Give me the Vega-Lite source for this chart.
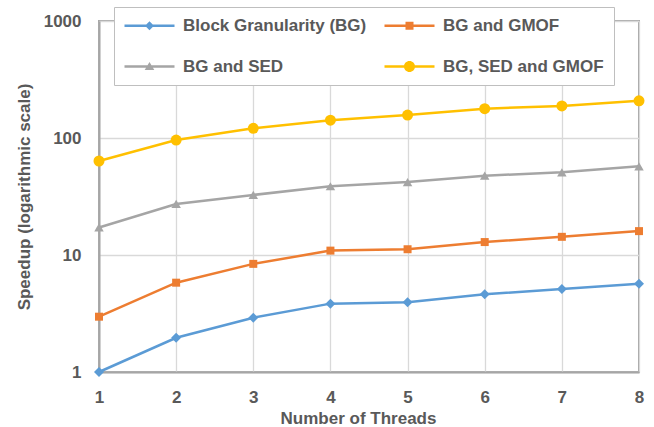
{
  "$schema": "https://vega.github.io/schema/vega-lite/v6.json",
  "width": 540,
  "height": 351,
  "autosize": {"type": "none"},
  "padding": {"left": 99, "top": 21, "right": 15, "bottom": 55},
  "config": {
    "font": "Liberation Sans",
    "view": {"stroke": "#a6a6a6", "strokeWidth": 2},
    "axis": {
      "labelFont": "Liberation Sans",
      "labelFontWeight": "bold",
      "labelFontSize": 17,
      "labelColor": "#595959",
      "titleFont": "Liberation Sans",
      "titleFontWeight": "bold",
      "titleFontSize": 17,
      "titleColor": "#595959",
      "gridColor": "#d9d9d9",
      "gridWidth": 1.3,
      "ticks": false,
      "domainColor": "#a6a6a6",
      "domainWidth": 2
    },
    "legend": {
      "labelFont": "Liberation Sans",
      "labelFontWeight": "bold",
      "labelFontSize": 17,
      "labelColor": "#595959",
      "labelLimit": 400
    }
  },
  "data": {
    "values": [
      {"threads": 1, "series": "Block Granularity (BG)", "speedup": 1.0},
      {"threads": 2, "series": "Block Granularity (BG)", "speedup": 1.96},
      {"threads": 3, "series": "Block Granularity (BG)", "speedup": 2.91},
      {"threads": 4, "series": "Block Granularity (BG)", "speedup": 3.84},
      {"threads": 5, "series": "Block Granularity (BG)", "speedup": 3.94},
      {"threads": 6, "series": "Block Granularity (BG)", "speedup": 4.61},
      {"threads": 7, "series": "Block Granularity (BG)", "speedup": 5.12},
      {"threads": 8, "series": "Block Granularity (BG)", "speedup": 5.69},
      {"threads": 1, "series": "BG and GMOF", "speedup": 2.97},
      {"threads": 2, "series": "BG and GMOF", "speedup": 5.8},
      {"threads": 3, "series": "BG and GMOF", "speedup": 8.4},
      {"threads": 4, "series": "BG and GMOF", "speedup": 10.9},
      {"threads": 5, "series": "BG and GMOF", "speedup": 11.2},
      {"threads": 6, "series": "BG and GMOF", "speedup": 12.9},
      {"threads": 7, "series": "BG and GMOF", "speedup": 14.3},
      {"threads": 8, "series": "BG and GMOF", "speedup": 16.0},
      {"threads": 1, "series": "BG and SED", "speedup": 17.2},
      {"threads": 2, "series": "BG and SED", "speedup": 27.3},
      {"threads": 3, "series": "BG and SED", "speedup": 32.6},
      {"threads": 4, "series": "BG and SED", "speedup": 38.7},
      {"threads": 5, "series": "BG and SED", "speedup": 42.0},
      {"threads": 6, "series": "BG and SED", "speedup": 47.6},
      {"threads": 7, "series": "BG and SED", "speedup": 50.9},
      {"threads": 8, "series": "BG and SED", "speedup": 57.3},
      {"threads": 1, "series": "BG, SED and GMOF", "speedup": 63.6},
      {"threads": 2, "series": "BG, SED and GMOF", "speedup": 96},
      {"threads": 3, "series": "BG, SED and GMOF", "speedup": 121},
      {"threads": 4, "series": "BG, SED and GMOF", "speedup": 142},
      {"threads": 5, "series": "BG, SED and GMOF", "speedup": 157},
      {"threads": 6, "series": "BG, SED and GMOF", "speedup": 178},
      {"threads": 7, "series": "BG, SED and GMOF", "speedup": 188},
      {"threads": 8, "series": "BG, SED and GMOF", "speedup": 208}
    ]
  },
  "encoding": {
    "x": {
      "field": "threads",
      "type": "quantitative",
      "scale": {"domain": [1, 8], "nice": false, "zero": false},
      "axis": {"values": [1, 2, 3, 4, 5, 6, 7, 8], "format": "d", "labelPadding": 17, "title": "Number of Threads", "titlePadding": 5, "titleX": 259, "labelFlush": false}
    },
    "y": {
      "field": "speedup",
      "type": "quantitative",
      "scale": {"type": "log", "domain": [1, 1000], "nice": false},
      "axis": {"values": [1, 10, 100, 1000], "format": "d", "labelPadding": 18, "title": "Speedup (logarithmic scale)", "titlePadding": 10, "labelFlush": false}
    },
    "color": {
      "field": "series",
      "type": "nominal",
      "scale": {
        "domain": ["Block Granularity (BG)", "BG and GMOF", "BG and SED", "BG, SED and GMOF"],
        "range": ["#5b9bd5", "#ed7d31", "#a5a5a5", "#ffc000"]
      },
      "legend": {
        "title": null,
        "orient": "none",
        "direction": "horizontal",
        "legendX": 15,
        "legendY": -14,
        "columns": 2,
        "columnPadding": 17,
        "rowPadding": 23,
        "padding": 10,
        "symbolSize": 256,
        "symbolOpacity": 1,
        "symbolStrokeWidth": 0,
        "labelOffset": 42,
        "labelLimit": 400,
        "strokeColor": "#bfbfbf",
        "fillColor": "white"
      }
    }
  },
  "layer": [
    {
      "transform": [{"filter": "datum.threads < 0"}],
      "mark": {"type": "point", "filled": true, "opacity": 1, "clip": false},
      "encoding": {
        "shape": {
          "field": "series",
          "type": "nominal",
          "scale": {
            "domain": ["Block Granularity (BG)", "BG and GMOF", "BG and SED", "BG, SED and GMOF"],
            "range": [
              "M-1,-0.16H5.25V0.16H-1Z M2.125,-0.56L2.685,0L2.125,0.56L1.565,0Z",
              "M-1,-0.16H5.25V0.16H-1Z M1.625,-0.5H2.625V0.5H1.625Z",
              "M-1,-0.16H5.25V0.16H-1Z M2.125,-0.56L2.725,0.44L1.525,0.44Z",
              "M-1,-0.16H5.25V0.16H-1Z M1.435,0A0.69,0.69,0,1,1,2.815,0A0.69,0.69,0,1,1,1.435,0Z"
            ]
          }
        }
      }
    },
    {
      "mark": {"type": "line", "strokeWidth": 2.5, "clip": false}
    },
    {
      "mark": {"type": "point", "filled": true, "opacity": 1, "clip": false},
      "encoding": {
        "shape": {
          "condition": [
            {"test": "datum.series === 'BG and GMOF'", "value": "square"},
            {"test": "datum.series === 'BG and SED'", "value": "triangle-up"},
            {"test": "datum.series === 'BG, SED and GMOF'", "value": "circle"}
          ],
          "value": "diamond"
        },
        "size": {
          "condition": [
            {"test": "datum.series === 'BG and GMOF'", "value": 64},
            {"test": "datum.series === 'BG and SED'", "value": 90},
            {"test": "datum.series === 'BG, SED and GMOF'", "value": 121}
          ],
          "value": 100
        }
      }
    }
  ]
}
